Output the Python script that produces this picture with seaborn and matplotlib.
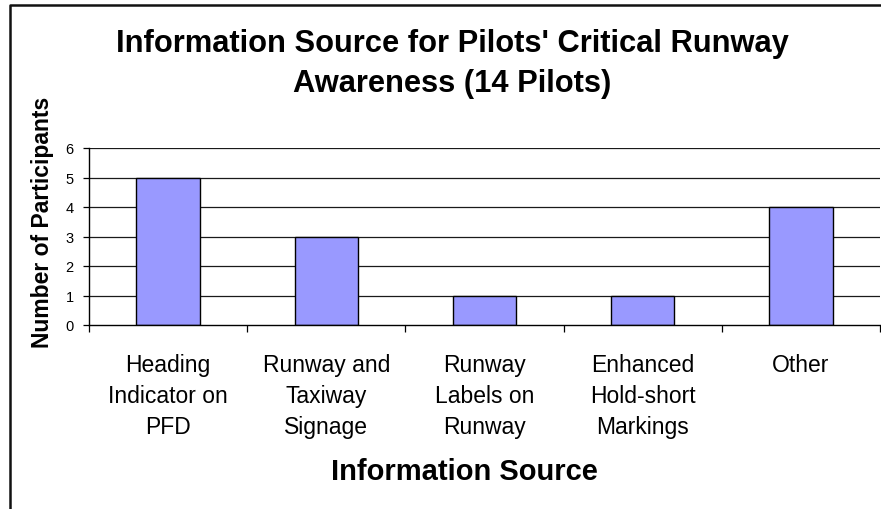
import matplotlib
matplotlib.use("Agg")
import matplotlib.pyplot as plt
from matplotlib.lines import Line2D
from matplotlib.ticker import FixedLocator
import seaborn as sns
import pandas as pd

sources = [
    "Heading\nIndicator on\nPFD",
    "Runway and\nTaxiway\nSignage",
    "Runway\nLabels on\nRunway",
    "Enhanced\nHold-short\nMarkings",
    "Other",
]
participants = [5, 3, 1, 1, 4]
y_ticks = [0, 1, 2, 3, 4, 5, 6]

df = pd.DataFrame({"source": sources, "participants": participants})

sns.set_theme(style="white")
plt.rcParams["font.family"] = ["Liberation Sans", "DejaVu Sans"]
plt.rcParams["text.color"] = "black"
plt.rcParams["xtick.color"] = "black"
plt.rcParams["ytick.color"] = "black"
plt.rcParams["axes.labelcolor"] = "black"

W, H = 881, 510
fig = plt.figure(figsize=(W / 100, H / 100), dpi=100)
fig.patch.set_facecolor("white")

left, right, top, bottom = 89, 880, 149, 326
ax = fig.add_axes([left / W, 1 - bottom / H, (right - left) / W, (bottom - top) / H])

sns.barplot(data=df, x="source", y="participants", ax=ax, width=0.4,
            color="#9999FF", edgecolor="black", linewidth=1.0, saturation=1)

ax.set_xlim(-0.5, len(sources) - 0.5)
ax.set_ylim(0, 6)
ax.set_yticks(y_ticks)
ax.set_yticklabels([str(v) for v in y_ticks], fontsize=10.5)
for v in y_ticks[1:]:
    ax.axhline(v, color="#1a1a1a", lw=0.9, zorder=0)

ax.set_axisbelow(True)
for s in ["top", "right"]:
    ax.spines[s].set_visible(False)
for s in ["left", "bottom"]:
    ax.spines[s].set_color("black")
    ax.spines[s].set_linewidth(1.0)

ax.tick_params(axis="y", which="major", direction="out", length=4, width=0.9,
               color="black", labelcolor="black", pad=7, left=True)
ax.tick_params(axis="x", which="major", length=0, pad=20, labelsize=16.5,
               labelcolor="black")
ax.xaxis.set_minor_locator(FixedLocator([i - 0.5 for i in range(len(sources) + 1)]))
ax.tick_params(axis="x", which="minor", direction="out", length=5, width=0.9,
               color="black", bottom=True)
for lbl in ax.get_xticklabels():
    lbl.set_linespacing(1.45)
    lbl.set_horizontalalignment("center")

ax.set_xlabel("")
ax.set_ylabel("")

fig.text(43 / W, 1 - 222 / H, "Number of Participants", rotation=90,
         fontsize=16.5, fontweight="bold", ha="center", va="center", color="black")
fig.text(464 / W, 1 - 472 / H, "Information Source", fontsize=21,
         fontweight="bold", ha="center", va="center", color="black")
fig.text(452 / W, 1 - 64 / H,
         "Information Source for Pilots' Critical Runway\nAwareness (14 Pilots)",
         fontsize=22.2, fontweight="bold", ha="center", va="center",
         linespacing=1.4, color="black")

# chart frame (left and top edges)
fig.add_artist(Line2D([10 / W, 10 / W, 1.0], [0.0, 1 - 6 / H, 1 - 6 / H],
                      transform=fig.transFigure, color="#111111", lw=1.8))

fig.savefig("out.png", dpi=100, facecolor="white")
